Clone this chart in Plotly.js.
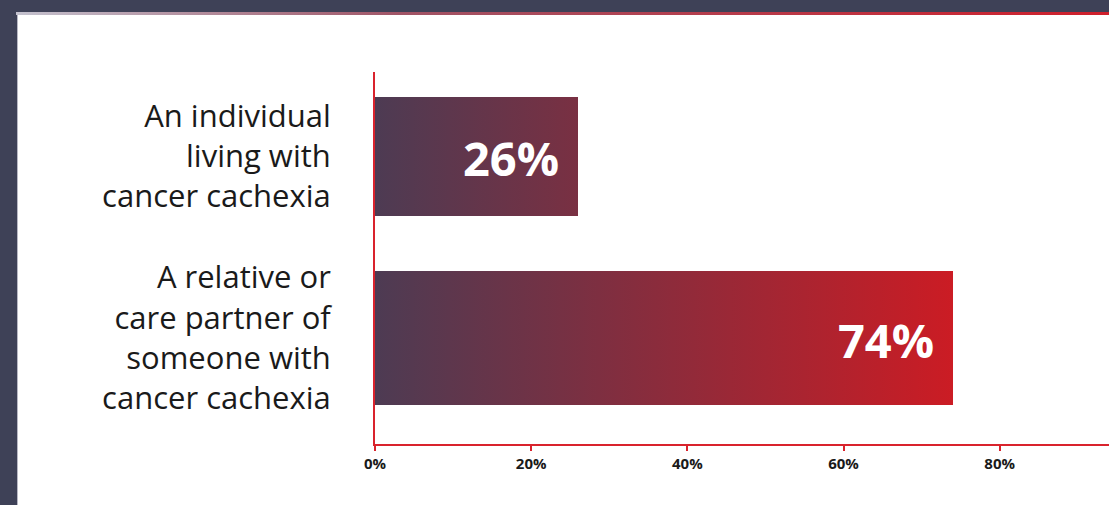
<!DOCTYPE html>
<html>
<head>
<meta charset="utf-8">
<script src="https://cdn.plot.ly/plotly-3.0.1.min.js"></script>
<style>
  html, body { margin: 0; padding: 0; width: 1109px; height: 505px; overflow: hidden; background: #3e4157; }
  #panel { position: absolute; left: 17px; top: 15px; width: 1092px; height: 490px; background: #ffffff; border-left: 1px solid #b8b8c4; box-sizing: border-box; }
  #topline { position: absolute; left: 16px; top: 12px; width: 1093px; height: 3px; background: linear-gradient(to right, #c4c2cf 0%, #a05466 35%, #cf1f2b 100%); }
  #chart { position: absolute; left: 0; top: 0; width: 1109px; height: 505px; }
</style>
</head>
<body>
<div id="panel"></div>
<div id="topline"></div>
<div id="chart"></div>
<script>
// ---- data ----
var categories = [
  "An individual<br>living with<br>cancer cachexia",
  "A relative or<br>care partner of<br>someone with<br>cancer cachexia"
];
var values = [26, 74];
var valueLabels = ["26%", "74%"];
var tickValues = [0, 20, 40, 60, 80];
var tickLabels = ["0%", "20%", "40%", "60%", "80%"];

// ---- style ----
var RED = "#d9232d";
var GRAD_START = "#4d3b53";
var GRAD_END = "#cb1c24";

var trace = {
  type: "bar",
  orientation: "h",
  x: values,
  y: categories,
  width: [0.654, 0.736],
  marker: { color: GRAD_END, line: { width: 0 } },
  hoverinfo: "none"
};

var annotations = values.map(function (v, i) {
  return {
    x: v, y: categories[i], xref: "x", yref: "y",
    text: "<b>" + valueLabels[i] + "</b>",
    showarrow: false, xanchor: "right", yanchor: "middle",
    xshift: -17, yshift: -2,
    font: { family: "Open Sans", size: 47, color: "#ffffff" }
  };
});

var layout = {
  width: 1109, height: 505,
  margin: { l: 375, r: 0, t: 72, b: 61, pad: 0 },
  paper_bgcolor: "rgba(0,0,0,0)",
  plot_bgcolor: "rgba(0,0,0,0)",
  showlegend: false,
  bargap: 0,
  xaxis: {
    range: [0, 94],
    tickvals: tickValues,
    ticktext: tickLabels,
    showgrid: false, zeroline: false,
    showline: true, linecolor: RED, linewidth: 2,
    ticks: "outside", ticklen: 5, tickwidth: 2, tickcolor: RED,
    ticklabelstandoff: 0,
    tickfont: { family: "Open Sans", size: 15, color: "#1a1a1a", weight: "bold" },
    fixedrange: true
  },
  yaxis: {
    type: "category",
    range: [1.582, -0.462],
    showgrid: false, zeroline: false,
    showline: true, linecolor: RED, linewidth: 2,
    ticks: "",
    ticklabelstandoff: 36,
    tickfont: { family: "Open Sans", size: 31, color: "#1a1a1a" },
    fixedrange: true
  },
  annotations: annotations
};

var gd = document.getElementById("chart");
Plotly.newPlot(gd, [trace], layout, { displayModeBar: false, staticPlot: true }).then(function () {
  var xa = gd._fullLayout.xaxis;
  var svg = gd.querySelector("svg.main-svg");
  var ns = "http://www.w3.org/2000/svg";
  var defs = svg.querySelector("defs");
  if (!defs) { defs = document.createElementNS(ns, "defs"); svg.insertBefore(defs, svg.firstChild); }
  var lg = document.createElementNS(ns, "linearGradient");
  lg.setAttribute("id", "barGrad");
  lg.setAttribute("gradientUnits", "userSpaceOnUse");
  lg.setAttribute("x1", xa.c2p(0));
  lg.setAttribute("x2", xa.c2p(Math.max.apply(null, values)));
  lg.setAttribute("y1", 0);
  lg.setAttribute("y2", 0);
  [[0, GRAD_START], [1, GRAD_END]].forEach(function (s) {
    var st = document.createElementNS(ns, "stop");
    st.setAttribute("offset", s[0]);
    st.setAttribute("stop-color", s[1]);
    lg.appendChild(st);
  });
  defs.appendChild(lg);
  gd.querySelectorAll(".barlayer .point path").forEach(function (p) {
    p.style.fill = "url(#barGrad)";
  });
});
</script>
</body>
</html>
